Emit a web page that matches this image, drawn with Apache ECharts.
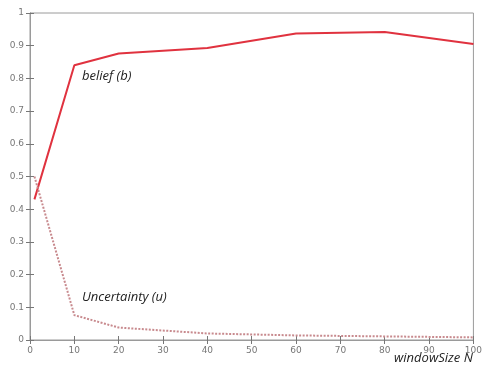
<!DOCTYPE html>
<html><head><meta charset="utf-8">
<script src="https://cdn.jsdelivr.net/npm/echarts@6/dist/echarts.min.js"></script>
<style>html,body{margin:0;padding:0;background:#fff}#c{width:485px;height:369px}</style>
</head><body><div id="c"></div>
<script>
const windowSizes = [1, 10, 20, 40, 60, 80, 100];
const belief = [0.43, 0.84, 0.876, 0.893, 0.937, 0.942, 0.905];
const uncertainty = [0.50, 0.076, 0.038, 0.020, 0.014, 0.011, 0.008];
const xTicks = [0, 10, 20, 30, 40, 50, 60, 70, 80, 90, 100];
const yTicks = [0, 0.1, 0.2, 0.3, 0.4, 0.5, 0.6, 0.7, 0.8, 0.9, 1];

const chart = echarts.init(document.getElementById('c'), null, {renderer: 'canvas'});
const axisGrey = '#9a9a9a';
const labelStyle = {color: '#777', fontSize: 9, fontFamily: 'DejaVu Sans'};
chart.setOption({
  animation: false,
  grid: {left: 30, right: 8, top: 13, bottom: 29, show: true, borderColor: axisGrey, borderWidth: 1},
  xAxis: [
    {type: 'value', min: 0, max: 100, interval: 10, position: 'bottom',
     axisLine: {lineStyle: {color: axisGrey}}, axisTick: {inside: true, length: 4, lineStyle: {color: '#777'}},
     splitLine: {show: false}, axisLabel: Object.assign({margin: 6}, labelStyle)},
    {type: 'value', min: 0, max: 100, interval: 10, position: 'top',
     axisLine: {lineStyle: {color: axisGrey}}, axisTick: {inside: true, length: 4, lineStyle: {color: '#777'}},
     splitLine: {show: false}, axisLabel: {show: false}}
  ],
  yAxis: [
    {type: 'value', min: 0, max: 1, interval: 0.1, position: 'left',
     axisLine: {show: true, lineStyle: {color: axisGrey}}, axisTick: {show: true, inside: true, length: 4, lineStyle: {color: '#777'}},
     splitLine: {show: false}, axisLabel: Object.assign({margin: 6}, labelStyle)},
    {type: 'value', min: 0, max: 1, interval: 0.1, position: 'right',
     axisLine: {show: true, lineStyle: {color: axisGrey}}, axisTick: {show: true, inside: true, length: 4, lineStyle: {color: '#777'}},
     splitLine: {show: false}, axisLabel: {show: false}}
  ],
  series: [
    {type: 'line', name: 'belief (b)', data: windowSizes.map((x, i) => [x, belief[i]]),
     showSymbol: false, lineStyle: {color: '#e0323f', width: 2}},
    {type: 'line', name: 'Uncertainty (u)', data: windowSizes.map((x, i) => [x, uncertainty[i]]),
     showSymbol: false, lineStyle: {color: '#c88a8e', width: 2, type: [2, 1.5]}}
  ],
  graphic: [
    {type: 'text', left: 82, top: 70, style: {text: 'belief (b)', fontSize: 13, fontStyle: 'italic', fontFamily: 'Open Sans', fill: '#222'}},
    {type: 'text', left: 82, top: 291, style: {text: 'Uncertainty (u)', fontSize: 13, fontStyle: 'italic', fontFamily: 'Open Sans', fill: '#222'}},
    {type: 'text', left: 394, top: 352, style: {text: 'windowSize N', fontSize: 13, fontStyle: 'italic', fontFamily: 'Open Sans', fill: '#222'}}
  ]
});
</script></body></html>
